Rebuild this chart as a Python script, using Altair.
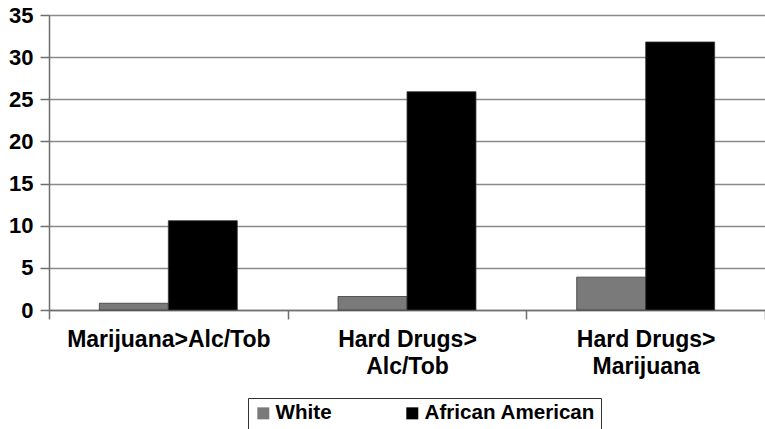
import altair as alt
import pandas as pd

# Transitions between substance classes, by race
categories = ["Marijuana>Alc/Tob", "Hard Drugs>\nAlc/Tob", "Hard Drugs>\nMarijuana"]
groups = ["White", "African American"]
white_values = [0.8, 1.6, 3.9]
african_american_values = [10.6, 25.9, 31.8]
y_ticks = [0, 5, 10, 15, 20, 25, 30, 35]

rows = []
for cat, w, a in zip(categories, white_values, african_american_values):
    rows.append({"category": cat, "group": "White", "value": w})
    rows.append({"category": cat, "group": "African American", "value": a})
df = pd.DataFrame(rows)

FONT = "Liberation Sans"

chart = (
    alt.Chart(df)
    .mark_bar(stroke="#3a3a3a", strokeWidth=0.8)
    .encode(
        x=alt.X(
            "category:N",
            sort=categories,
            scale=alt.Scale(paddingInner=0, paddingOuter=0),
            axis=alt.Axis(
                title=None,
                labelAngle=0,
                labelExpr="datum.value ? split(datum.value, '\\n') : ''",
                labelFont=FONT,
                labelFontSize=23,
                labelFontWeight="bold",
                labelColor="#000000",
                labelLineHeight=27,
                labelBaseline="top",
                labelPadding=9,
                labelLimit=400,
                tickBand="extent",
                tickSize=9,
                tickColor="#6e6e6e",
                tickWidth=1.5,
                domainColor="#6e6e6e",
                domainWidth=1.5,
                grid=False,
            ),
        ),
        xOffset=alt.XOffset(
            "group:N",
            sort=groups,
            scale=alt.Scale(paddingInner=0, paddingOuter=0.73),
        ),
        y=alt.Y(
            "value:Q",
            scale=alt.Scale(domain=[0, 35], nice=False),
            axis=alt.Axis(
                title=None,
                values=y_ticks,
                labelFont=FONT,
                labelFontSize=22,
                labelFontWeight="bold",
                labelColor="#000000",
                labelPadding=7,
                tickSize=9,
                tickColor="#6e6e6e",
                tickWidth=1.5,
                domainColor="#6e6e6e",
                domainWidth=1.5,
                grid=True,
                gridColor="#8a8a8a",
                gridWidth=1.5,
            ),
        ),
        color=alt.Color(
            "group:N",
            sort=groups,
            scale=alt.Scale(domain=groups, range=["#7a7a7a", "#000000"]),
            legend=alt.Legend(
                title=None,
                orient="none",
                direction="horizontal",
                legendX=199,
                legendY=383,
                symbolType="square",
                symbolSize=144,
                symbolStrokeWidth=0,
                labelFont=FONT,
                labelFontSize=20.6,
                labelFontWeight="bold",
                labelColor="#000000",
                labelOffset=2,
                columnPadding=70,
                padding=5,
                strokeColor="#333333",
                labelLimit=300,
            ),
        ),
    )
    .properties(
        width=716,
        height=295,
        autosize=alt.AutoSizeParams(type="none"),
        padding={"left": 49, "top": 15, "right": 0, "bottom": 119},
    )
    .configure_view(stroke=None)
    .configure_legend(strokeWidth=1.5)
    .configure(background="#ffffff")
)

chart.save("out.html", embed_options={"renderer": "svg", "actions": False})
